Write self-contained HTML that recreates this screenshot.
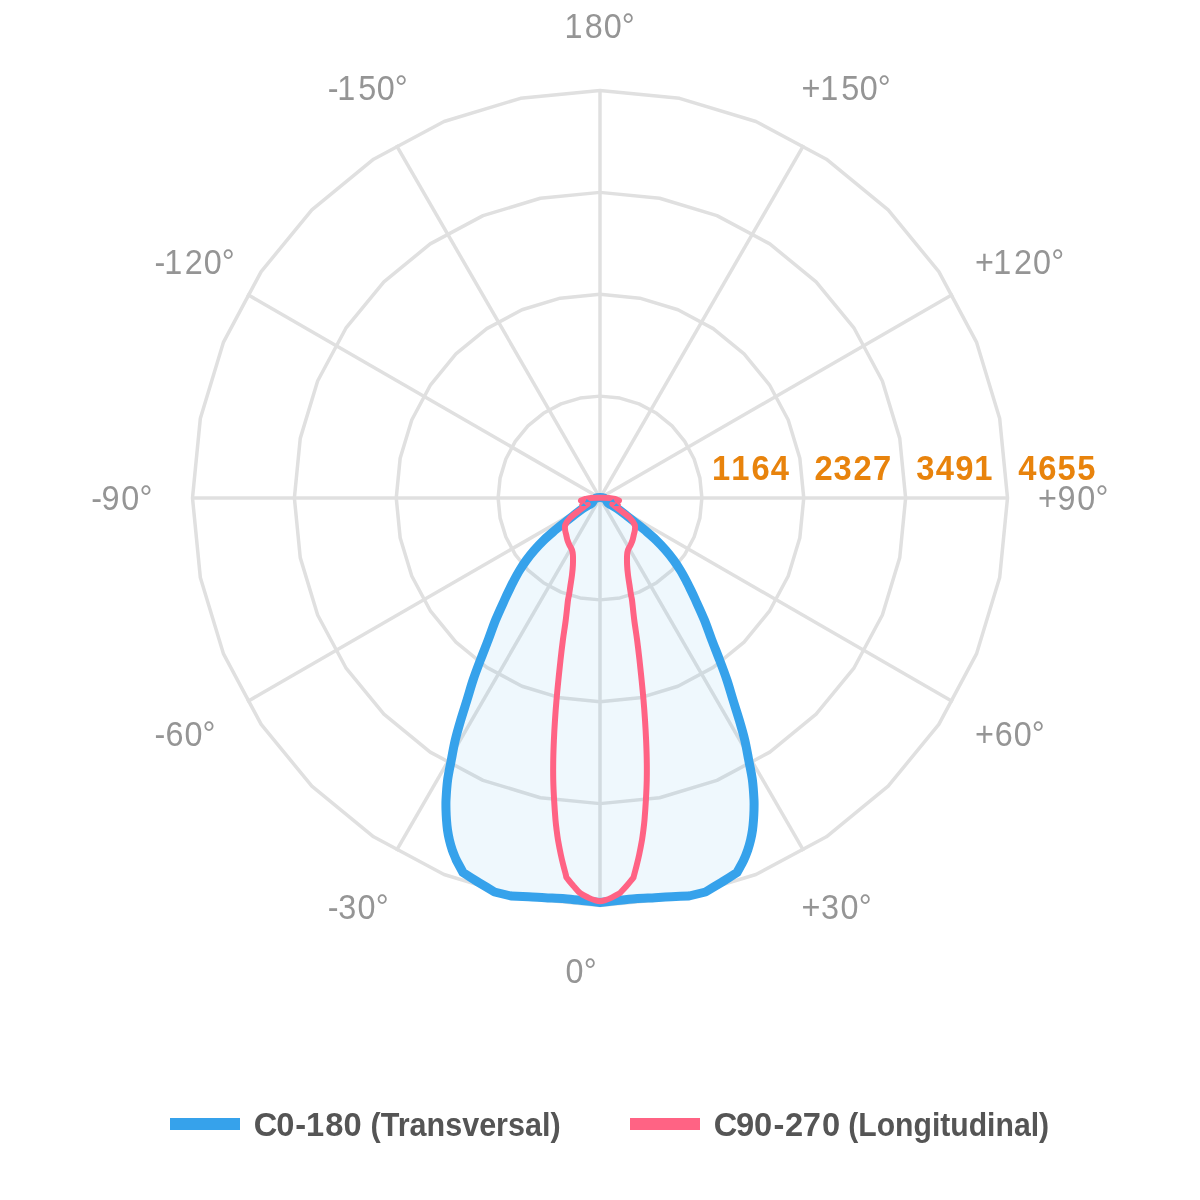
<!DOCTYPE html>
<html lang="en"><head><meta charset="utf-8"><title>Polar diagram</title>
<style>html,body{margin:0;padding:0;background:#fff;}body{width:1200px;height:1200px;overflow:hidden;font-family:"Liberation Sans",Arial,sans-serif;}svg{display:block;}</style>
</head><body>
<svg width="1200" height="1200" viewBox="0 0 1200 1200">
<rect width="1200" height="1200" fill="#ffffff"/>
<g fill="none" stroke="#e0e0e0" stroke-width="3.5" stroke-linejoin="round">
<path d="M600.00,599.88 L619.87,597.92 L638.99,592.12 L656.60,582.71 L672.04,570.04 L684.71,554.60 L694.12,536.99 L699.92,517.87 L701.88,498.00 L699.92,478.13 L694.12,459.01 L684.71,441.40 L672.04,425.96 L656.60,413.29 L638.99,403.88 L619.87,398.08 L600.00,396.12 L580.13,398.08 L561.01,403.88 L543.40,413.29 L527.96,425.96 L515.29,441.40 L505.88,459.01 L500.08,478.13 L498.12,498.00 L500.08,517.87 L505.88,536.99 L515.29,554.60 L527.96,570.04 L543.40,582.71 L561.01,592.12 L580.13,597.92 Z"/>
<path d="M600.00,701.75 L639.75,697.84 L677.97,686.24 L713.20,667.41 L744.07,642.07 L769.41,611.20 L788.24,575.97 L799.84,537.75 L803.75,498.00 L799.84,458.25 L788.24,420.03 L769.41,384.80 L744.07,353.93 L713.20,328.59 L677.97,309.76 L639.75,298.16 L600.00,294.25 L560.25,298.16 L522.03,309.76 L486.80,328.59 L455.93,353.93 L430.59,384.80 L411.76,420.03 L400.16,458.25 L396.25,498.00 L400.16,537.75 L411.76,575.97 L430.59,611.20 L455.93,642.07 L486.80,667.41 L522.03,686.24 L560.25,697.84 Z"/>
<path d="M600.00,803.62 L659.62,797.75 L716.96,780.36 L769.80,752.12 L816.11,714.11 L854.12,667.80 L882.36,614.96 L899.75,557.62 L905.62,498.00 L899.75,438.38 L882.36,381.04 L854.12,328.20 L816.11,281.89 L769.80,243.88 L716.96,215.64 L659.62,198.25 L600.00,192.38 L540.38,198.25 L483.04,215.64 L430.20,243.88 L383.89,281.89 L345.88,328.20 L317.64,381.04 L300.25,438.38 L294.38,498.00 L300.25,557.62 L317.64,614.96 L345.88,667.80 L383.89,714.11 L430.20,752.12 L483.04,780.36 L540.38,797.75 Z"/>
<path d="M600.00,905.50 L679.50,897.67 L755.94,874.48 L826.39,836.82 L888.15,786.15 L938.82,724.39 L976.48,653.94 L999.67,577.50 L1007.50,498.00 L999.67,418.50 L976.48,342.06 L938.82,271.61 L888.15,209.85 L826.39,159.18 L755.94,121.52 L679.50,98.33 L600.00,90.50 L520.50,98.33 L444.06,121.52 L373.61,159.18 L311.85,209.85 L261.18,271.61 L223.52,342.06 L200.33,418.50 L192.50,498.00 L200.33,577.50 L223.52,653.94 L261.18,724.39 L311.85,786.15 L373.61,836.82 L444.06,874.48 L520.50,897.67 Z"/>
<path d="M600.0,498.0 L600.00,905.50"/>
<path d="M600.0,498.0 L803.75,850.91"/>
<path d="M600.0,498.0 L952.91,701.75"/>
<path d="M600.0,498.0 L1007.50,498.00"/>
<path d="M600.0,498.0 L952.91,294.25"/>
<path d="M600.0,498.0 L803.75,145.09"/>
<path d="M600.0,498.0 L600.00,90.50"/>
<path d="M600.0,498.0 L396.25,145.09"/>
<path d="M600.0,498.0 L247.09,294.25"/>
<path d="M600.0,498.0 L192.50,498.00"/>
<path d="M600.0,498.0 L247.09,701.75"/>
<path d="M600.0,498.0 L396.25,850.91"/>
</g>
<path d="M604.50,498.20 C606.35,498.91 606.46,501.75 608.00,503.00 C610.12,504.72 614.25,506.48 617.20,508.50 C620.37,510.67 623.75,513.48 627.00,516.00 C630.33,518.58 633.87,521.33 637.20,524.00 C640.49,526.63 643.87,529.33 647.00,532.00 C650.06,534.60 653.12,537.20 656.00,540.00 C659.08,543.00 662.58,546.67 665.50,550.00 C668.31,553.21 671.05,556.67 673.50,560.00 C675.88,563.23 678.15,566.67 680.20,570.00 C682.20,573.25 684.03,576.67 685.80,580.00 C687.55,583.29 689.18,586.67 690.80,590.00 C692.41,593.31 693.98,596.65 695.50,600.00 C697.77,605.00 701.68,613.33 704.40,620.00 C707.08,626.58 709.27,633.36 711.80,640.00 C714.33,646.67 717.08,653.33 719.60,660.00 C722.11,666.64 724.67,673.33 726.90,680.00 C729.11,686.61 730.94,693.34 733.00,700.00 C735.06,706.67 737.29,713.33 739.25,720.00 C741.20,726.63 743.17,733.33 744.75,740.00 C746.31,746.61 747.43,753.33 748.70,760.00 C749.97,766.66 751.52,773.33 752.40,780.00 C753.28,786.63 753.73,795.00 754.00,800.00 C754.18,803.33 754.08,806.67 754.00,810.00 C753.92,813.33 753.75,816.67 753.50,820.00 C753.25,823.33 752.98,826.68 752.50,830.00 C752.02,833.33 751.38,836.70 750.60,840.00 C749.81,843.33 748.87,846.72 747.75,850.00 C746.61,853.33 745.30,856.76 743.75,860.00 C741.96,863.75 739.25,868.33 737.00,872.50 C731.83,875.80 726.67,879.10 721.50,882.40 C716.17,885.60 710.83,888.80 705.50,892.00 C700.00,893.33 694.50,894.67 689.00,896.00 C683.17,896.23 677.33,896.47 671.50,896.70 C666.00,897.03 660.50,897.40 655.00,897.70 C648.92,898.03 641.66,898.18 635.00,898.70 C628.33,899.22 620.83,900.17 615.00,900.80 C610.00,901.34 605.00,901.93 600.00,902.50 C595.00,901.93 590.00,901.37 585.00,900.80 C578.33,900.10 571.67,899.22 565.00,898.70 C558.34,898.18 551.08,898.03 545.00,897.70 C539.50,897.40 534.00,896.98 528.50,896.70 C522.83,896.42 516.83,896.23 511.00,896.00 C505.50,894.67 500.00,893.33 494.50,892.00 C489.17,888.80 483.83,885.60 478.50,882.40 C473.33,879.10 468.17,875.80 463.00,872.50 C460.75,868.33 458.50,864.17 456.25,860.00 C454.92,856.67 453.39,853.33 452.25,850.00 C451.13,846.72 450.19,843.33 449.40,840.00 C448.62,836.70 447.98,833.33 447.50,830.00 C447.02,826.68 446.75,823.33 446.50,820.00 C446.25,816.67 446.08,813.33 446.00,810.00 C445.92,806.67 445.82,803.33 446.00,800.00 C446.27,795.00 446.72,786.63 447.60,780.00 C448.48,773.33 450.03,766.66 451.30,760.00 C452.57,753.33 453.69,746.61 455.25,740.00 C456.82,733.33 458.80,726.63 460.75,720.00 C462.71,713.33 464.94,706.67 467.00,700.00 C469.06,693.34 470.89,686.61 473.10,680.00 C475.33,673.33 477.89,666.64 480.40,660.00 C482.92,653.33 485.67,646.67 488.20,640.00 C490.73,633.36 492.92,626.58 495.60,620.00 C498.32,613.33 502.23,605.00 504.50,600.00 C506.02,596.65 507.59,593.31 509.20,590.00 C510.82,586.67 512.45,583.29 514.20,580.00 C515.97,576.67 517.80,573.25 519.80,570.00 C521.85,566.67 524.12,563.23 526.50,560.00 C528.95,556.67 531.69,553.21 534.50,550.00 C537.42,546.67 540.92,543.00 544.00,540.00 C546.88,537.20 549.94,534.60 553.00,532.00 C556.13,529.33 559.51,526.63 562.80,524.00 C566.13,521.33 569.67,518.58 573.00,516.00 C576.25,513.48 579.63,510.67 582.80,508.50 C585.75,506.48 589.88,504.72 592.00,503.00 C593.54,501.75 593.65,498.91 595.50,498.20 C597.58,497.40 602.42,497.40 604.50,498.20 Z" fill="rgba(54,162,235,0.08)" stroke="#36a2eb" stroke-width="9" stroke-linejoin="round"/>
<path d="M600.00,497.75 C603.00,497.75 606.50,497.69 609.00,497.90 C611.03,498.07 613.33,498.55 615.00,499.00 C616.39,499.37 617.67,500.07 619.00,500.60 C617.50,501.33 616.00,502.07 614.50,502.80 C615.60,503.60 616.70,504.40 617.80,505.20 C615.97,504.87 614.13,504.53 612.30,504.20 C614.87,506.13 617.43,508.07 620.00,510.00 C623.33,512.67 627.54,515.50 630.00,518.00 C631.98,520.01 633.93,523.00 634.75,525.00 C635.38,526.54 635.07,528.34 634.90,530.00 C634.73,531.67 634.13,533.33 633.75,535.00 C633.37,536.67 633.11,538.37 632.60,540.00 C632.08,541.67 631.35,543.37 630.60,545.00 C629.83,546.67 628.58,548.33 628.00,550.00 C627.44,551.60 627.20,553.31 627.10,555.00 C626.95,557.50 626.95,561.67 627.10,565.00 C627.25,568.33 627.60,571.68 628.00,575.00 C628.40,578.33 629.00,581.67 629.50,585.00 C630.00,588.33 630.58,592.50 631.00,595.00 C631.28,596.68 631.78,598.31 632.00,600.00 C632.54,604.17 633.40,613.35 634.25,620.00 C635.10,626.67 636.23,633.33 637.10,640.00 C637.97,646.66 638.75,653.33 639.50,660.00 C640.25,666.66 640.93,673.33 641.60,680.00 C642.27,686.66 642.93,693.33 643.50,700.00 C644.07,706.66 644.57,713.33 645.00,720.00 C645.43,726.66 645.81,733.33 646.10,740.00 C646.39,746.66 646.64,753.33 646.75,760.00 C646.86,766.67 646.89,773.33 646.75,780.00 C646.61,786.67 646.27,793.34 645.90,800.00 C645.52,806.67 644.92,815.00 644.50,820.00 C644.22,823.34 643.82,826.67 643.40,830.00 C642.98,833.33 642.57,836.68 642.00,840.00 C641.28,844.17 639.98,850.83 639.10,855.00 C638.40,858.35 637.58,861.68 636.75,865.00 C635.92,868.33 634.64,872.92 634.10,875.00 C633.88,875.83 633.70,876.67 633.50,877.50 C631.17,880.33 628.78,883.38 626.50,886.00 C624.34,888.47 622.03,890.80 619.80,893.20 C617.10,894.67 614.25,896.40 611.70,897.60 C609.37,898.70 606.45,899.78 604.50,900.40 C603.04,900.86 601.50,901.30 600.00,901.30 C598.50,901.30 596.96,900.86 595.50,900.40 C593.55,899.78 590.63,898.70 588.30,897.60 C585.75,896.40 582.62,895.10 580.20,893.20 C577.73,891.27 575.73,888.40 573.50,886.00 C571.17,883.17 567.77,879.33 566.50,877.50 C566.01,876.79 566.10,875.83 565.90,875.00 C565.02,871.67 564.08,868.33 563.25,865.00 C562.42,861.68 561.60,858.35 560.90,855.00 C560.02,850.83 558.72,844.17 558.00,840.00 C557.43,836.68 557.02,833.33 556.60,830.00 C556.18,826.67 555.78,823.34 555.50,820.00 C555.08,815.00 554.48,806.67 554.10,800.00 C553.73,793.34 553.39,786.67 553.25,780.00 C553.11,773.33 553.14,766.67 553.25,760.00 C553.36,753.33 553.61,746.66 553.90,740.00 C554.19,733.33 554.57,726.66 555.00,720.00 C555.43,713.33 555.93,706.66 556.50,700.00 C557.07,693.33 557.73,686.66 558.40,680.00 C559.07,673.33 559.75,666.66 560.50,660.00 C561.25,653.33 562.03,646.66 562.90,640.00 C563.77,633.33 564.90,626.67 565.75,620.00 C566.60,613.35 567.46,604.17 568.00,600.00 C568.22,598.31 568.72,596.68 569.00,595.00 C569.42,592.50 570.00,588.33 570.50,585.00 C571.00,581.67 571.60,578.33 572.00,575.00 C572.40,571.68 572.75,568.33 572.90,565.00 C573.05,561.67 573.05,557.50 572.90,555.00 C572.80,553.31 572.56,551.60 572.00,550.00 C571.42,548.33 570.17,546.67 569.40,545.00 C568.65,543.37 567.92,541.67 567.40,540.00 C566.89,538.37 566.63,536.67 566.25,535.00 C565.87,533.33 565.27,531.67 565.10,530.00 C564.93,528.34 564.62,526.54 565.25,525.00 C566.07,523.00 568.02,520.01 570.00,518.00 C572.46,515.50 577.05,512.30 580.00,510.00 C582.53,508.02 585.13,506.13 587.70,504.20 C585.87,504.53 584.03,504.87 582.20,505.20 C583.30,504.40 584.40,503.60 585.50,502.80 C584.00,502.07 582.50,501.33 581.00,500.60 C582.33,500.07 583.67,499.53 585.00,499.00 C587.00,498.63 588.97,498.07 591.00,497.90 C593.50,497.69 597.00,497.75 600.00,497.75 Z" fill="none" stroke="#ff6384" stroke-width="6" stroke-linejoin="round"/>
<path d="M609.9,501.5 L613.4,499.0 L615.2,502.4 Z" fill="#2fa6f0"/>
<path d="M613.9,505.9 L616.3,503.2 L619.2,505.9 Z" fill="#2fa6f0"/>
<path d="M590.1,501.5 L586.6,499.0 L584.8,502.4 Z" fill="#2fa6f0"/>
<path d="M586.1,505.9 L583.7,503.2 L580.8,505.9 Z" fill="#2fa6f0"/>
<text transform="scale(0.93,1)" x="765.50 786.41 808.17 828.78" y="479.60" font-family="'Liberation Sans', Arial, sans-serif" font-size="35.2" font-weight="700" fill="#e8830c">1164</text>
<text transform="scale(0.93,1)" x="875.78 896.34 917.72 938.68" y="479.60" font-family="'Liberation Sans', Arial, sans-serif" font-size="35.2" font-weight="700" fill="#e8830c">2327</text>
<text transform="scale(0.93,1)" x="985.09 1006.20 1027.04 1047.70" y="479.60" font-family="'Liberation Sans', Arial, sans-serif" font-size="35.2" font-weight="700" fill="#e8830c">3491</text>
<text transform="scale(0.93,1)" x="1095.03 1116.42 1137.04 1158.33" y="479.60" font-family="'Liberation Sans', Arial, sans-serif" font-size="35.2" font-weight="700" fill="#e8830c">4655</text>
<text transform="scale(0.92,1)" x="613.71 635.53 656.13 675.90" y="37.80" font-family="'Liberation Sans', Arial, sans-serif" font-size="35.2" fill="#959595">180°</text>
<text transform="scale(0.92,1)" x="614.77 634.54" y="983.20" font-family="'Liberation Sans', Arial, sans-serif" font-size="35.2" fill="#959595">0°</text>
<text transform="scale(0.92,1)" x="356.28 366.51 389.31 409.63 429.16" y="100.50" font-family="'Liberation Sans', Arial, sans-serif" font-size="35.2" fill="#959595">-150°</text>
<text transform="scale(0.92,1)" x="871.21 891.51 914.31 934.63 954.16" y="100.50" font-family="'Liberation Sans', Arial, sans-serif" font-size="35.2" fill="#959595">+150°</text>
<text transform="scale(0.92,1)" x="167.83 178.55 200.81 221.35 241.12" y="273.70" font-family="'Liberation Sans', Arial, sans-serif" font-size="35.2" fill="#959595">-120°</text>
<text transform="scale(0.92,1)" x="1059.75 1079.67 1102.05 1122.75 1142.59" y="273.70" font-family="'Liberation Sans', Arial, sans-serif" font-size="35.2" fill="#959595">+120°</text>
<text transform="scale(0.92,1)" x="99.14 110.30 131.68 151.51" y="510.30" font-family="'Liberation Sans', Arial, sans-serif" font-size="35.2" fill="#959595">-90°</text>
<text transform="scale(0.92,1)" x="1128.16 1149.43 1170.88 1190.70" y="510.30" font-family="'Liberation Sans', Arial, sans-serif" font-size="35.2" fill="#959595">+90°</text>
<text transform="scale(0.92,1)" x="167.83 179.85 200.43 220.22" y="746.30" font-family="'Liberation Sans', Arial, sans-serif" font-size="35.2" fill="#959595">-60°</text>
<text transform="scale(0.92,1)" x="1059.75 1081.26 1101.78 1121.55" y="746.30" font-family="'Liberation Sans', Arial, sans-serif" font-size="35.2" fill="#959595">+60°</text>
<text transform="scale(0.92,1)" x="356.28 367.63 388.47 408.51" y="919.20" font-family="'Liberation Sans', Arial, sans-serif" font-size="35.2" fill="#959595">-30°</text>
<text transform="scale(0.92,1)" x="871.21 892.53 913.47 933.51" y="919.20" font-family="'Liberation Sans', Arial, sans-serif" font-size="35.2" fill="#959595">+30°</text>
<rect x="170" y="1118" width="70" height="12" fill="#36a2eb"/>
<rect x="630" y="1118" width="70" height="12" fill="#ff6384"/>
<text transform="scale(0.98,1)" x="258.97 282.02 301.22 312.37 331.92 350.64" y="1135.70" font-family="'Liberation Sans', Arial, sans-serif" font-size="33.3" font-weight="700" fill="#555555">C0-180</text>
<text transform="scale(0.98,1)" x="728.35 751.08 769.50 789.24 801.07 819.24 838.90" y="1135.70" font-family="'Liberation Sans', Arial, sans-serif" font-size="33.3" font-weight="700" fill="#555555">C90-270</text>
<text transform="scale(0.9171,1)" x="404.05" y="1135.7" font-family="'Liberation Sans', Arial, sans-serif" font-size="33.3" font-weight="700" fill="#555555">(Transversal)</text>
<text transform="scale(0.9053,1)" x="936.96" y="1135.7" font-family="'Liberation Sans', Arial, sans-serif" font-size="33.3" font-weight="700" fill="#555555">(Longitudinal)</text>
</svg>
</body></html>
